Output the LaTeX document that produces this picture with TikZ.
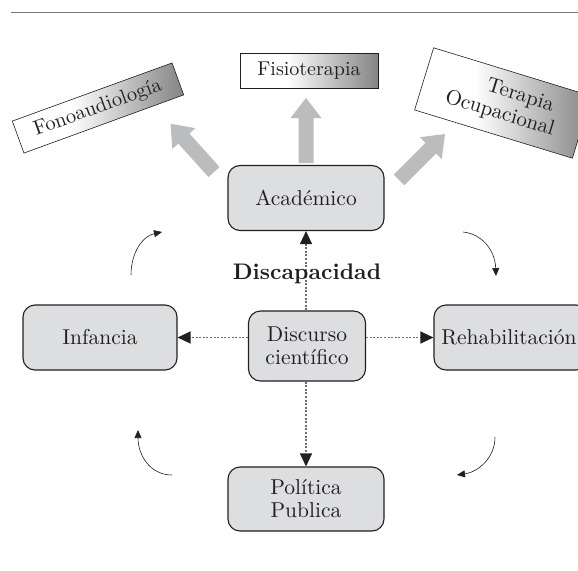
\documentclass[tikz,border=0pt]{standalone}
\usepackage{fontspec}
\setmainfont{lmroman10-regular.otf}[BoldFont=lmroman10-bold.otf]
\usetikzlibrary{arrows.meta}
\definecolor{boxfill}{RGB}{221,222,224}
\definecolor{arrowgray}{RGB}{187,188,190}
\definecolor{dotgray}{RGB}{110,110,110}
\definecolor{ink}{RGB}{35,31,32}
\definecolor{ruleline}{RGB}{120,120,120}
\pgfdeclarehorizontalshading{wbshade}{100bp}{color(0bp)=(white); color(42bp)=(white); color(100bp)=(black!85)}
\newcommand\myblockarrow[3]{%
  \begin{scope}[shift={(#1,#2)},rotate=#3]
    \fill[arrowgray] (0,-7.5)--(45,-7.5)--(45,-15.5)--(65,0)--(45,15.5)--(45,7.5)--(0,7.5)--cycle;
  \end{scope}}
\tikzset{
  rbox/.style={draw=ink, line width=1.1pt, fill=boxfill, rounded corners=12pt,
    minimum width=156pt, minimum height=65pt, inner sep=0pt, align=center,
    font=\fontsize{21.5}{23}\selectfont, text=ink},
  gbox/.style={draw=ink, line width=0.6pt, shading=wbshade, inner sep=0pt,
    align=center, text=ink},
  dotarrow/.style={dotgray, line width=1.2pt, dash pattern=on 2pt off 1.6pt,
    -{Triangle[length=13pt,width=12pt,color=ink]}},
  curvarrow/.style={ink, line width=0.6pt, -{Triangle[length=8pt,width=7pt]}},
}
\begin{document}
\begin{tikzpicture}[x=1pt,y=-1pt]
\useasboundingbox (0,0) rectangle (578,570);
% top rule
\coordinate (rl) at (11,12);
\coordinate (rr) at (578,12);
\draw[ruleline, line width=1pt] (rl) -- (rr);

% gray block arrows
\myblockarrow{214}{172}{132}
\myblockarrow{306}{163}{90}
\myblockarrow{399}{180}{45}

% gradient boxes
\node[gbox, minimum width=138pt, minimum height=35pt, font=\fontsize{20}{24}\selectfont] (fisio) at (309,70.5) {Fisioterapia};
\node[gbox, rotate=20, minimum width=170pt, minimum height=34pt, font=\fontsize{20.5}{24}\selectfont] (fono) at (98,108) {Fonoaudiología};
\node[gbox, rotate=-17, minimum width=165pt, minimum height=65pt, font=\fontsize{21}{23}\selectfont] (tera) at (503,103) {\hspace*{29pt}Terapia\\Ocupacional};

% rounded boxes
\node[rbox] (acad) at (306,198) {Académico};
\node[rbox, minimum width=154pt] (inf) at (100,337.5) {Infancia};
\node[rbox, minimum width=154pt] (rehab) at (511,337.5) {\hspace*{-2pt}Rehabilitación\hspace*{2pt}};
\node[rbox, minimum width=117pt, minimum height=70pt] (disc) at (307,346) {Discurso\\científico};
\node[rbox, minimum height=64pt] (pol) at (306,499) {Política\\Publica};

% dotted arrows
\draw[dotarrow] (acad.south |- disc.north) -- (acad.south);
\draw[dotarrow] (pol.north |- disc.south) -- (pol.north);
\draw[dotarrow] (disc.west |- inf.east) -- (inf.east);
\draw[dotarrow] (disc.east |- rehab.west) -- (rehab.west);

\node[font=\bfseries\fontsize{22.5}{24}\selectfont, text=ink, anchor=base] (discap) at (307,279) {Discapacidad};

% curved arrows
\coordinate (ulS) at (131,275); \coordinate (ulE) at (162,232);
\coordinate (urS) at (463,232); \coordinate (urE) at (496,276);
\coordinate (lrS) at (495,437); \coordinate (lrE) at (457,475);
\coordinate (llS) at (172,475); \coordinate (llE) at (138,430);
\draw[curvarrow] (ulS) .. controls (131,252) and (143,236) .. (ulE);
\draw[curvarrow] (urS) .. controls (482,234) and (495,250) .. (urE);
\draw[curvarrow] (lrS) .. controls (495,458) and (478,472) .. (lrE);
\draw[curvarrow] (llS) .. controls (150,475) and (138,455) .. (llE);
\end{tikzpicture}
\end{document}
